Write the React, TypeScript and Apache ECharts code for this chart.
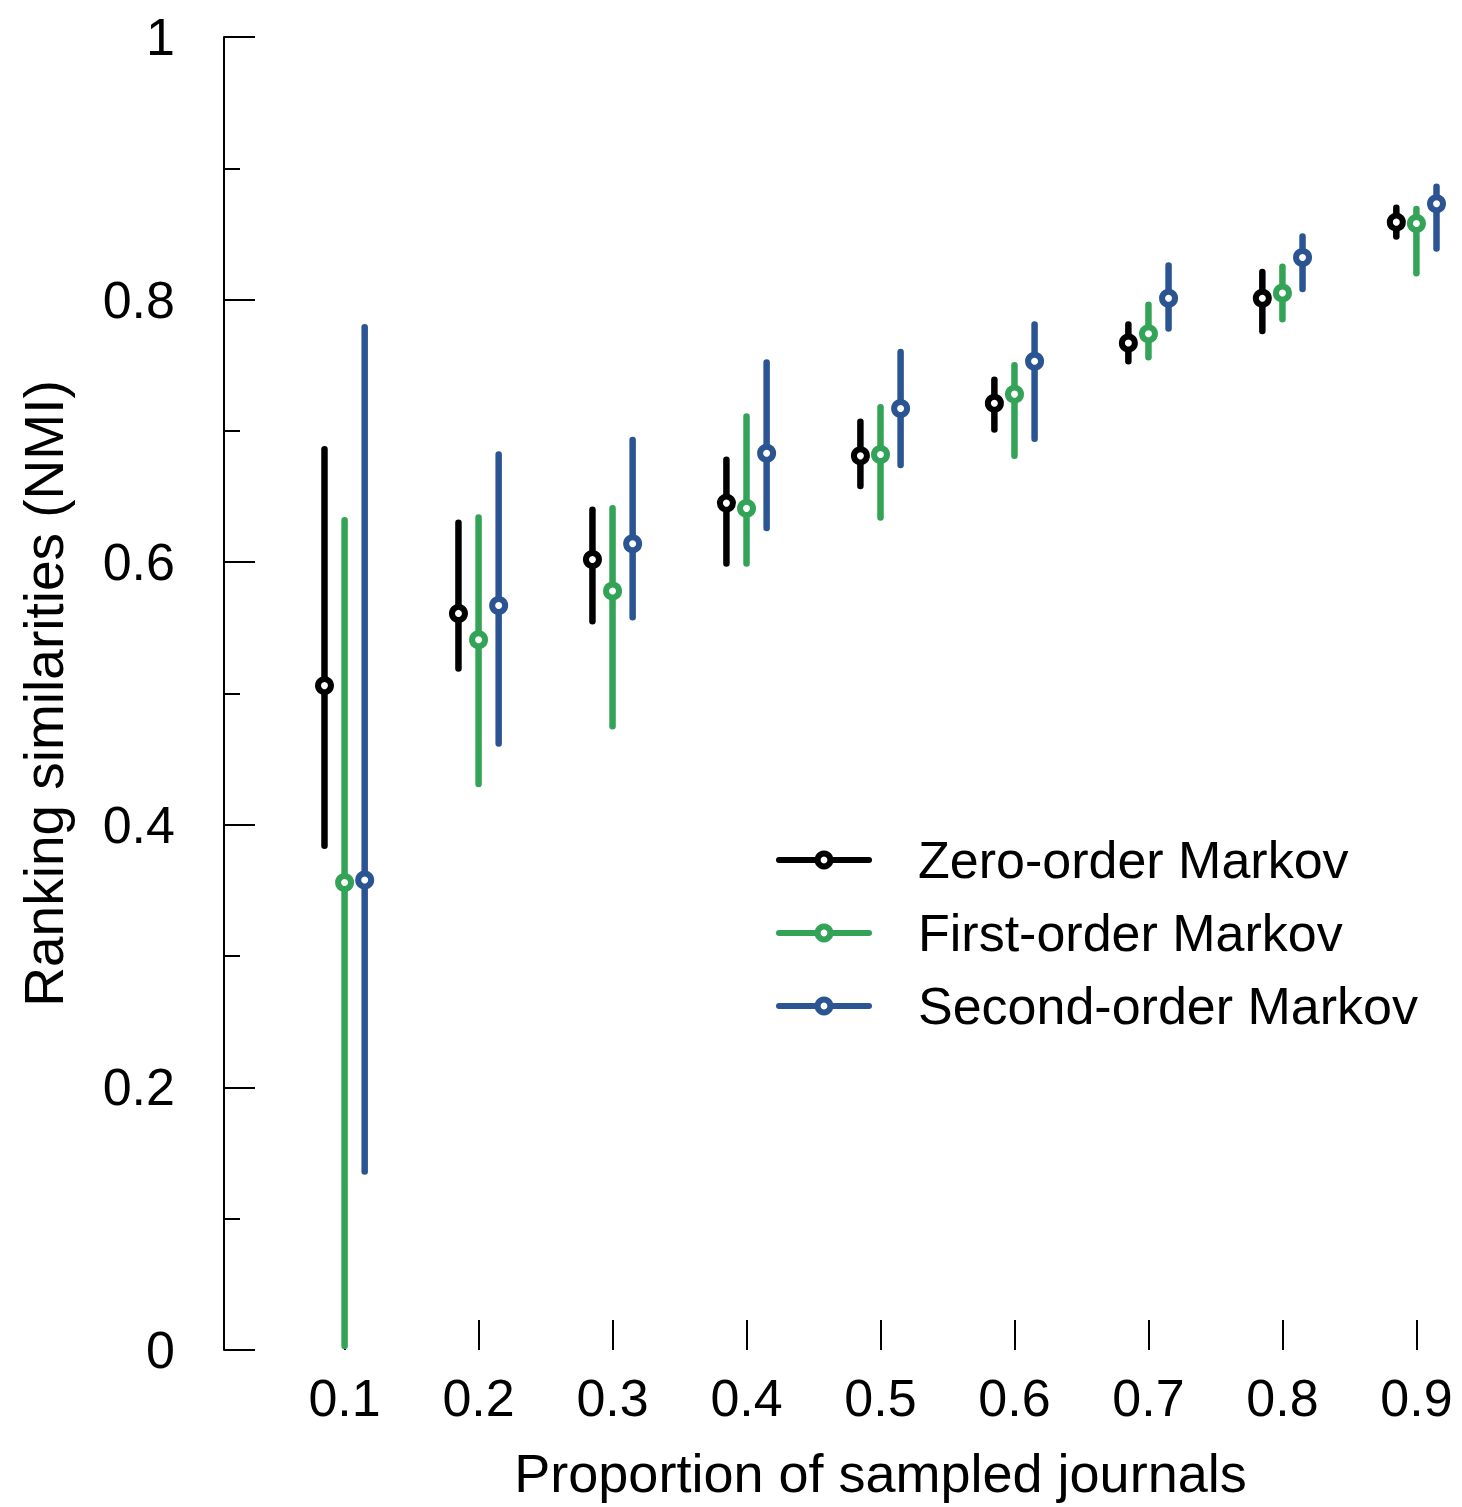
import React, { useEffect, useRef } from 'react';
import * as echarts from 'echarts';

const proportions = [0.1, 0.2, 0.3, 0.4, 0.5, 0.6, 0.7, 0.8, 0.9];
const seriesNames = ['Zero-order Markov', 'First-order Markov', 'Second-order Markov'];

const zeroMean = [0.506, 0.561, 0.602, 0.645, 0.681, 0.721, 0.767, 0.801, 0.859];
const zeroLow = [0.384, 0.519, 0.555, 0.599, 0.658, 0.701, 0.753, 0.776, 0.848];
const zeroHigh = [0.686, 0.630, 0.640, 0.678, 0.707, 0.739, 0.781, 0.821, 0.870];

const firstMean = [0.356, 0.541, 0.578, 0.641, 0.682, 0.728, 0.774, 0.805, 0.858];
const firstLow = [0.003, 0.431, 0.475, 0.599, 0.634, 0.681, 0.756, 0.785, 0.820];
const firstHigh = [0.632, 0.634, 0.641, 0.711, 0.718, 0.750, 0.796, 0.825, 0.869];

const secondMean = [0.358, 0.567, 0.614, 0.683, 0.717, 0.753, 0.801, 0.832, 0.873];
const secondLow = [0.136, 0.462, 0.558, 0.626, 0.674, 0.694, 0.778, 0.808, 0.839];
const secondHigh = [0.779, 0.682, 0.693, 0.752, 0.760, 0.781, 0.826, 0.848, 0.886];

const colors = ['#000000', '#33a457', '#2b5592'];
const offsets = [-0.015, 0, 0.015];
const FONT = '"Liberation Sans", Arial, sans-serif';

export default function App() {
  const ref = useRef<HTMLDivElement>(null);
  useEffect(() => {
    const chart = echarts.init(ref.current!, null, { renderer: 'svg' });
    const groups = [
      { mean: zeroMean, low: zeroLow, high: zeroHigh },
      { mean: firstMean, low: firstLow, high: firstHigh },
      { mean: secondMean, low: secondLow, high: secondHigh },
    ];
    const series: any[] = [];
    groups.forEach((g, i) => {
      series.push({
        type: 'custom',
        name: 'range' + i,
        silent: true,
        z: 2,
        data: proportions.map((p, k) => [p + offsets[i], g.low[k], g.high[k]]),
        encode: { x: 0, y: [1, 2] },
        renderItem: (params: any, api: any) => {
          const x = api.value(0);
          const p1 = api.coord([x, api.value(1)]);
          const p2 = api.coord([x, api.value(2)]);
          return {
            type: 'line',
            shape: { x1: p1[0], y1: p1[1], x2: p2[0], y2: p2[1] },
            style: { stroke: colors[i], lineWidth: 6.5, lineCap: 'round' },
          };
        },
      });
    });
    groups.forEach((g, i) => {
      series.push({
        type: 'line',
        name: seriesNames[i],
        silent: true,
        z: 3,
        data: proportions.map((p, k) => [p + offsets[i], g.mean[k]]),
        symbol: 'circle',
        symbolSize: 13,
        showSymbol: true,
        itemStyle: { color: '#ffffff', borderColor: colors[i], borderWidth: 6 },
        lineStyle: { width: 0, opacity: 0 },
        emphasis: { disabled: true },
      });
    });

    chart.setOption({
      animation: false,
      backgroundColor: '#ffffff',
      grid: { left: 224, top: 37, width: 1313, height: 1313, outerBoundsMode: 'none', containLabel: false },
      legend: {
        orient: 'vertical',
        left: 776,
        top: 834,
        padding: 0,
        itemWidth: 90,
        itemHeight: 16,
        itemGap: 21,
        selectedMode: false,
        textStyle: { fontSize: 52, fontFamily: FONT, color: '#000', padding: [0, 0, 0, 44], lineHeight: 52 },
        data: seriesNames.map((n, i) => ({
          name: n,
          itemStyle: { color: '#ffffff', borderColor: colors[i], borderWidth: 6, opacity: 1 },
          lineStyle: { color: colors[i], width: 6, opacity: 1, cap: 'round' },
        })),
      },
      xAxis: {
        type: 'value',
        min: 0.01,
        max: 0.99,
        name: 'Proportion of sampled journals',
        nameLocation: 'middle',
        nameGap: 96,
        nameTextStyle: { fontSize: 54, fontFamily: FONT, color: '#000' },
        axisLine: { show: false },
        splitLine: { show: false },
        axisTick: {
          show: true,
          inside: true,
          length: 30,
          customValues: proportions,
          lineStyle: { color: '#000', width: 2 },
        },
        axisLabel: {
          customValues: proportions,
          fontSize: 52,
          fontFamily: FONT,
          color: '#000',
          margin: 22,
          formatter: (v: number) => String(Math.round(v * 10) / 10),
        },
      },
      yAxis: {
        type: 'value',
        min: 0,
        max: 1,
        interval: 0.2,
        name: 'Ranking similarities (NMI)',
        nameLocation: 'middle',
        nameGap: 153,
        nameRotate: 90,
        nameTextStyle: { fontSize: 55, fontFamily: FONT, color: '#000' },
        axisLine: { show: true, lineStyle: { color: '#000', width: 2 } },
        splitLine: { show: false },
        axisTick: { show: true, inside: true, length: 31, lineStyle: { color: '#000', width: 2 } },
        minorTick: { show: true, splitNumber: 2, length: 16, lineStyle: { color: '#000', width: 2 } },
        minorSplitLine: { show: false },
        axisLabel: { fontSize: 52, fontFamily: FONT, color: '#000', margin: 49 },
      },
      series,
    });
    return () => chart.dispose();
  }, []);
  return (
    <div
      ref={ref}
      style={{ position: 'absolute', left: 0, top: 0, width: 1462, height: 1507 }}
    />
  );
}
